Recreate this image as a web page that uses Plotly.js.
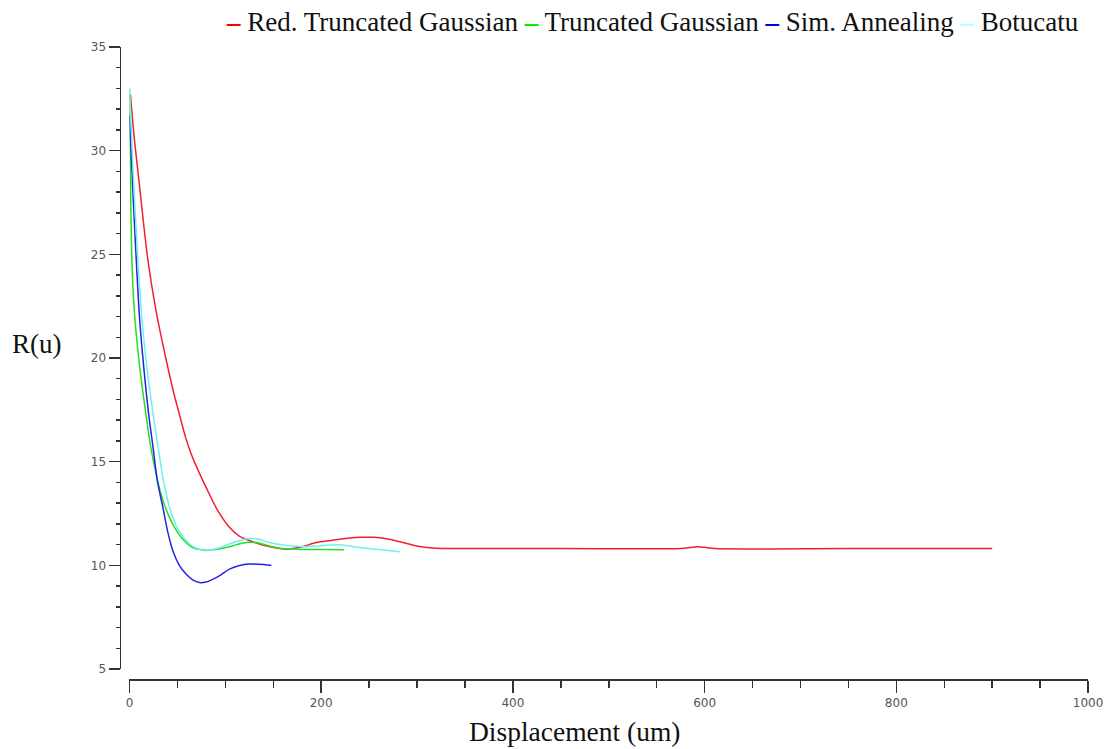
<!DOCTYPE html>
<html>
<head>
<meta charset="utf-8">
<script src="https://cdn.plot.ly/plotly-3.0.1.min.js"></script>
<style>html,body{margin:0;padding:0;background:#fff;}#chart{width:1106px;height:749px;}</style>
</head>
<body>
<div id="chart"></div>
<script>
// Series names
var seriesNames = ["Red. Truncated Gaussian", "Truncated Gaussian", "Sim. Annealing", "Botucatu"];

// Red. Truncated Gaussian
var redX = [1, 5, 10, 19, 28, 36, 46, 52, 59, 65, 70, 80, 92, 104, 115, 125, 137, 150, 164, 180, 195, 210, 225, 240, 255, 268, 282, 295, 306, 320, 334, 450, 575, 585, 592, 600, 610, 750, 900];
var redY = [32.7, 30.6, 28.5, 24.8, 22.2, 20.4, 18.35, 17.3, 16.1, 15.3, 14.75, 13.75, 12.65, 11.85, 11.4, 11.2, 11.0, 10.86, 10.78, 10.9, 11.1, 11.2, 11.3, 11.35, 11.35, 11.28, 11.14, 10.98, 10.88, 10.82, 10.81, 10.81, 10.81, 10.86, 10.9, 10.87, 10.81, 10.81, 10.81];

// Truncated Gaussian
var greenX = [0, 2.5, 5, 8.7, 13, 18, 22.6, 27.8, 35, 45, 55, 66, 80, 90, 101, 112, 122, 132, 145, 157, 175, 200, 224];
var greenY = [33.0, 24.8, 22.3, 20.4, 18.7, 17.0, 15.6, 14.4, 13.1, 12.0, 11.3, 10.86, 10.73, 10.76, 10.86, 11.0, 11.1, 11.1, 10.95, 10.83, 10.78, 10.76, 10.75];

// Sim. Annealing
var blueX = [0, 3.5, 7, 10.4, 15, 20, 24.3, 29, 34.8, 40, 45.2, 52, 59.2, 66, 73, 80, 90.5, 97, 104.4, 114, 125.3, 135, 148];
var blueY = [31.7, 28.1, 24.8, 22.0, 19.5, 17.3, 15.8, 14.1, 12.8, 11.6, 10.7, 10.0, 9.57, 9.3, 9.17, 9.2, 9.41, 9.6, 9.82, 9.98, 10.06, 10.05, 10.0];

// Botucatu
var cyanX = [0, 4, 8.7, 12.8, 18, 24, 29.5, 35, 41.8, 50, 62.6, 72, 80, 92, 104, 115, 125, 136, 146, 157, 167, 181, 200, 219, 240, 260, 282];
var cyanY = [33.0, 28.8, 24.8, 22.0, 19.6, 17.5, 15.8, 14.2, 12.8, 11.8, 11.03, 10.78, 10.7, 10.82, 11.03, 11.2, 11.3, 11.25, 11.1, 11.0, 10.94, 10.9, 10.95, 10.99, 10.86, 10.76, 10.65];

// Axis labels
var xTitle = "Displacement (um)";
var yTitle = "R(u)";

var lineColors = ["#f21f2f", "#22e022", "#2323e0", "#6ef0f0"];
var legendColors = ["#ff0000", "#00ee00", "#0000ee", "#b8ffff"];

var xs = [redX, greenX, blueX, cyanX];
var ys = [redY, greenY, blueY, cyanY];

var traces = seriesNames.map(function (n, i) {
  return {
    x: xs[i], y: ys[i], name: n, type: "scatter", mode: "lines",
    line: {color: lineColors[i], width: 1.5, shape: "spline", smoothing: 0.8},
    showlegend: false, hoverinfo: "x+y+name"
  };
});

var legendText = seriesNames.map(function (n, i) {
  return '<span style="color:' + legendColors[i] + '"><b>\u2013</b></span> ' + n;
}).join(" ");

var axisCol = "#333";
var tickFont = {family: "DejaVu Sans, Verdana, sans-serif", size: 12, color: "#555"};
var serif = "Liberation Serif, Times New Roman, serif";

var layout = {
  width: 1106, height: 749,
  margin: {l: 100, r: 10, t: 40, b: 60},
  paper_bgcolor: "#ffffff", plot_bgcolor: "#ffffff",
  showlegend: false,
  xaxis: {
    range: [0, 1000], domain: [0.0296, 0.9920],
    anchor: "free", position: 0.0150,
    showline: true, linecolor: axisCol, linewidth: 1.5,
    showgrid: false, zeroline: false,
    ticks: "outside", ticklen: 12, tickwidth: 1.5, tickcolor: axisCol,
    dtick: 200, tick0: 0, tickfont: tickFont,
    minor: {ticks: "outside", dtick: 50, ticklen: 7, tickwidth: 1.5, tickcolor: axisCol, showgrid: false},
    automargin: false
  },
  yaxis: {
    range: [5, 35], domain: [0.0308, 0.9892],
    anchor: "free", position: 0.0196,
    showline: true, linecolor: axisCol, linewidth: 1.5,
    showgrid: false, zeroline: false,
    ticks: "outside", ticklen: 11, tickwidth: 1.5, tickcolor: axisCol,
    dtick: 5, tick0: 5, tickfont: tickFont,
    minor: {ticks: "outside", dtick: 1, ticklen: 4, tickwidth: 1.5, tickcolor: axisCol, showgrid: false},
    automargin: false
  },
  annotations: [
    {xref: "paper", yref: "paper", x: 0.9849, y: 1.0277, xanchor: "right", yanchor: "middle",
     text: legendText, showarrow: false,
     font: {family: serif, size: 27, color: "#111"}},
    {xref: "paper", yref: "paper", x: -0.0628, y: 0.5316, xanchor: "center", yanchor: "middle",
     text: yTitle, showarrow: false,
     font: {family: serif, size: 27, color: "#111"}},
    {xref: "paper", yref: "paper", x: 0.4769, y: -0.0662, xanchor: "center", yanchor: "middle",
     text: xTitle, showarrow: false,
     font: {family: serif, size: 27.5, color: "#111"}}
  ]
};

Plotly.newPlot("chart", traces, layout, {displayModeBar: false, staticPlot: true});
</script>
</body>
</html>
